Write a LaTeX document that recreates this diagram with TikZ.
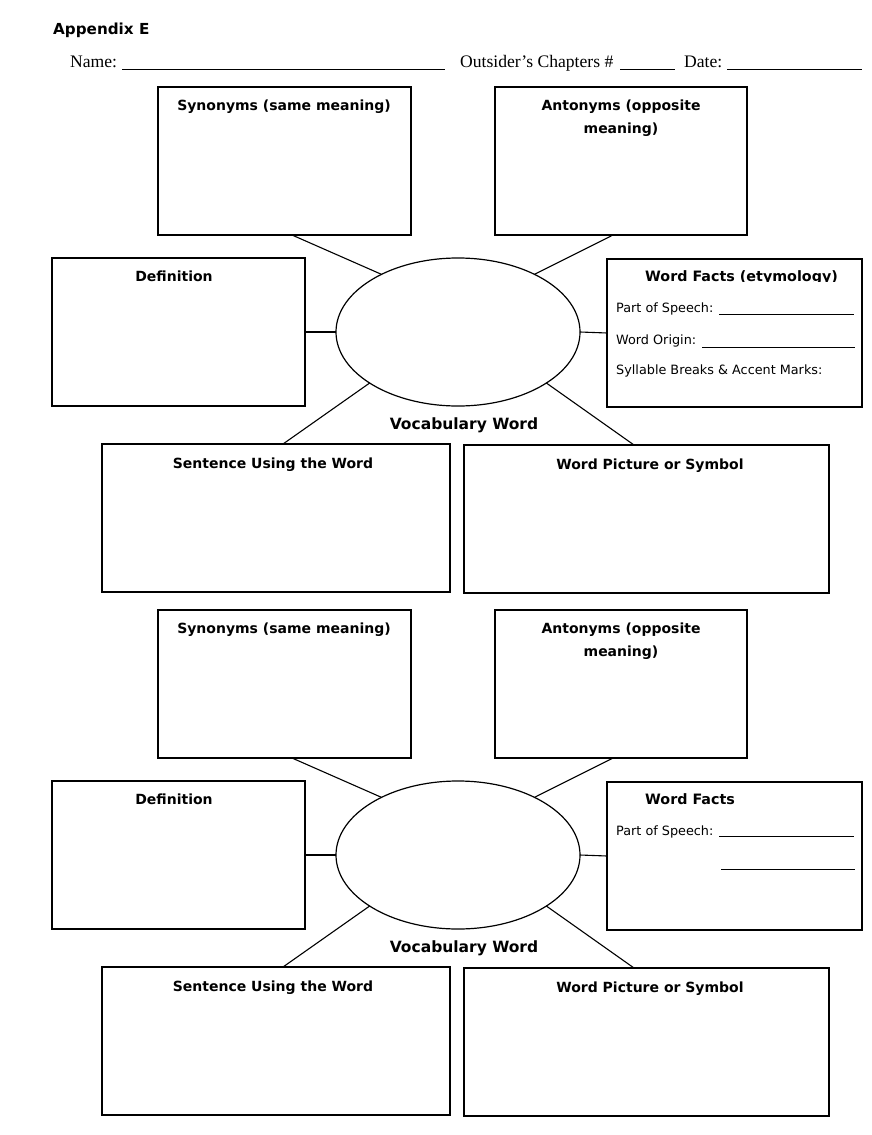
\documentclass[tikz,border=0pt]{standalone}
\usepackage{fontspec}
\setmainfont{Liberation Serif}
\newfontfamily\hdfont{DejaVu Sans}
\usetikzlibrary{shapes.geometric,calc}
\tikzset{
  box/.style={draw, line width=1.8pt, inner sep=0pt, outer sep=0pt},
  head/.style={font=\hdfont\bfseries\fontsize{14}{23}\selectfont, anchor=base, inner sep=0pt, align=center},
  bighead/.style={font=\hdfont\bfseries\fontsize{15.5}{17}\selectfont, anchor=base, inner sep=0pt},
  small/.style={font=\hdfont\fontsize{12.8}{14}\selectfont, anchor=base west, inner sep=0pt},
  serif/.style={font=\fontsize{17.6}{19}\selectfont, anchor=base west, inner sep=0pt},
  conn/.style={line width=1.1pt},
  blank/.style={line width=1pt},
  vocab/.style={draw, ellipse, line width=1.2pt, minimum width=244pt, minimum height=148pt, inner sep=0pt, outer sep=0pt},
}
\newcommand\vocabblock[1]{%
  \node[box, minimum width=253pt, minimum height=148pt] (syn#1) at (284.5,161) {};
  \node[box, minimum width=252pt, minimum height=148pt] (ant#1) at (621,161) {};
  \node[box, minimum width=253pt, minimum height=148pt] (def#1) at (178.5,332) {};
  \node[box, minimum width=255pt, minimum height=148pt] (wf#1) at (734.5,333) {};
  \node[vocab] (ell#1) at (458,332) {};
  \node[box, minimum width=348pt, minimum height=148pt] (sen#1) at (276,518) {};
  \node[box, minimum width=365pt, minimum height=148pt] (pic#1) at (646.5,519) {};
  \node[head] (synt#1) at (284,110) {Synonyms (same meaning)};
  \node[head] (antt#1) at (621,133) {Antonyms (opposite\\meaning)};
  \node[head] (deft#1) at (174,281) {Definition};
  \node[bighead] (vw#1) at (464,429) {Vocabulary Word};
  \node[head] (sent#1) at (273,468) {Sentence Using the Word};
  \node[head] (pict#1) at (650,469) {Word Picture or Symbol};
  \draw[conn] ($(syn#1.south west)+(134,0)$) -- (ell#1.143);
  \draw[conn] ($(ant#1.south west)+(118,0)$) -- (ell#1.37);
  \draw[conn] (def#1.east) -- (ell#1.180);
  \draw[conn] (ell#1.0) -- (wf#1.west);
  \draw[conn] (ell#1.210) -- ($(sen#1.north west)+(181,0)$);
  \draw[conn] (ell#1.330) -- ($(pic#1.north west)+(170,0)$);
}
\begin{document}
\begin{tikzpicture}[x=1pt,y=-1pt]
  \useasboundingbox[fill=white] (0,0) rectangle (872,1135);
  \node[font=\hdfont\bfseries\fontsize{15.2}{17}\selectfont, anchor=base west, inner sep=0pt] (app) at (53,34) {Appendix E};
  \node[serif] (name) at (70,67) {Name:};
  \draw[blank] (122,69) -- (445,69);
  \node[serif] (chap) at (460,67) {Outsider’s Chapters \#};
  \draw[blank] (620,69) -- (675,69);
  \node[serif] (date) at (684,67) {Date:};
  \draw[blank] (727,69) -- (862,69);
  % top block
  \vocabblock{A}
  \begin{scope}
    \clip (600,262) rectangle (862,281.5);
    \node[head, font=\hdfont\bfseries\fontsize{14.3}{16}\selectfont, anchor=base west] (wft) at (645,281) {Word Facts (etymology)};
  \end{scope}
  \node[small] (pos) at (616,312) {Part of Speech:};
  \draw[blank] (719,314) -- (854,314);
  \node[small] (orig) at (616,344) {Word Origin:};
  \draw[blank] (702,347) -- (855,347);
  \node[small] (syl) at (616,374) {Syllable Breaks \& Accent Marks:};
  % bottom block
  \begin{scope}[yshift=-523pt]
    \vocabblock{B}
    \node[head, font=\hdfont\bfseries\fontsize{14.3}{16}\selectfont, anchor=base west] (wftB) at (645,281) {Word Facts};
    \node[small] (posB) at (616,312) {Part of Speech:};
    \draw[blank] (719,313) -- (854,313);
    \draw[blank] (721,346) -- (855,346);
  \end{scope}
\end{tikzpicture}
\end{document}
